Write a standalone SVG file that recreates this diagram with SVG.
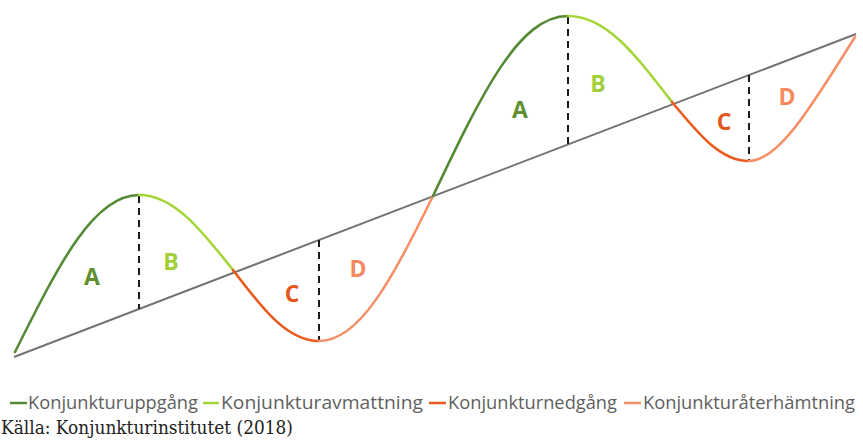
<svg xmlns="http://www.w3.org/2000/svg" width="863" height="441" viewBox="0 0 863 441">
<style>
.seg{fill:none;stroke-width:2.6;stroke-linecap:round}
.up{stroke:#548a35}.slow{stroke:#a4d63a}.down{stroke:#ea5a1e}.rec{stroke:#f69068}
.dash{stroke:#1a1a1a;stroke-width:2;stroke-dasharray:7 5}
.lab{font-family:"Open Sans","Liberation Sans",sans-serif;font-weight:bold;font-size:23px;text-anchor:middle}
.leg{font-family:"Open Sans","Liberation Sans",sans-serif;font-size:18px;fill:#5f5f5f}
.src{font-family:"DejaVu Serif","Liberation Serif",serif;font-size:19px;fill:#222}
</style>
<rect width="863" height="441" fill="#ffffff"/>
<g id="trend"><line x1="14" y1="357" x2="856" y2="34" stroke="#737373" stroke-width="2"/></g>
<g id="connectors">
<line class="dash" x1="139" y1="196" x2="139" y2="309"/>
<line class="dash" x1="319" y1="240" x2="319" y2="340"/>
<line class="dash" x1="568" y1="17" x2="568" y2="144"/>
<line class="dash" x1="749" y1="75" x2="749" y2="160"/>
</g>
<g id="cycle1">
<path class="seg up" d="M15,352 C60,262 94,195 139,195"/>
<path class="seg slow" d="M139,195 C173,195 199,227 233,270"/>
<path class="seg down" d="M233,270 C264,311 288,341 319,341"/>
<path class="seg rec" d="M319,341 C360,341 392,279 433,196"/>
</g>
<g id="cycle2">
<path class="seg up" d="M433,196 C482,93 519,16 568,16"/>
<path class="seg slow" d="M568,16 C606,16 634,53 672,102"/>
<path class="seg down" d="M672,102 C700,136 721,161 749,161"/>
<path class="seg rec" d="M749,161 C780,161 815,100 855,37"/>
</g>
<g id="labels">
<text class="lab" x="92" y="285" fill="#5f8f2e">A</text>
<text class="lab" x="171" y="270" fill="#a2d03a">B</text>
<text class="lab" x="292" y="302" fill="#e4561c">C</text>
<text class="lab" x="358" y="277" fill="#f5895c">D</text>
<text class="lab" x="520" y="118" fill="#5f8f2e">A</text>
<text class="lab" x="598" y="92" fill="#a2d03a">B</text>
<text class="lab" x="724" y="130" fill="#e4561c">C</text>
<text class="lab" x="787" y="105" fill="#f5895c">D</text>
</g>
<g id="legend">
<line x1="10" y1="403" x2="27" y2="403" stroke="#548a35" stroke-width="2.5"/>
<text class="leg" x="28" y="409" textLength="170" lengthAdjust="spacingAndGlyphs">Konjunkturuppgång</text>
<line x1="203" y1="403" x2="219" y2="403" stroke="#a4d63a" stroke-width="2.5"/>
<text class="leg" x="221" y="409" textLength="202" lengthAdjust="spacingAndGlyphs">Konjunkturavmattning</text>
<line x1="429" y1="403" x2="446" y2="403" stroke="#ea5a1e" stroke-width="2.5"/>
<text class="leg" x="448" y="409" textLength="169" lengthAdjust="spacingAndGlyphs">Konjunkturnedgång</text>
<line x1="624" y1="403" x2="641" y2="403" stroke="#f69068" stroke-width="2.5"/>
<text class="leg" x="643" y="409" textLength="212" lengthAdjust="spacingAndGlyphs">Konjunkturåterhämtning</text>
</g>
<g id="source">
<text class="src" x="1" y="434" textLength="292" lengthAdjust="spacingAndGlyphs">Källa: Konjunkturinstitutet (2018)</text>
</g>
</svg>
